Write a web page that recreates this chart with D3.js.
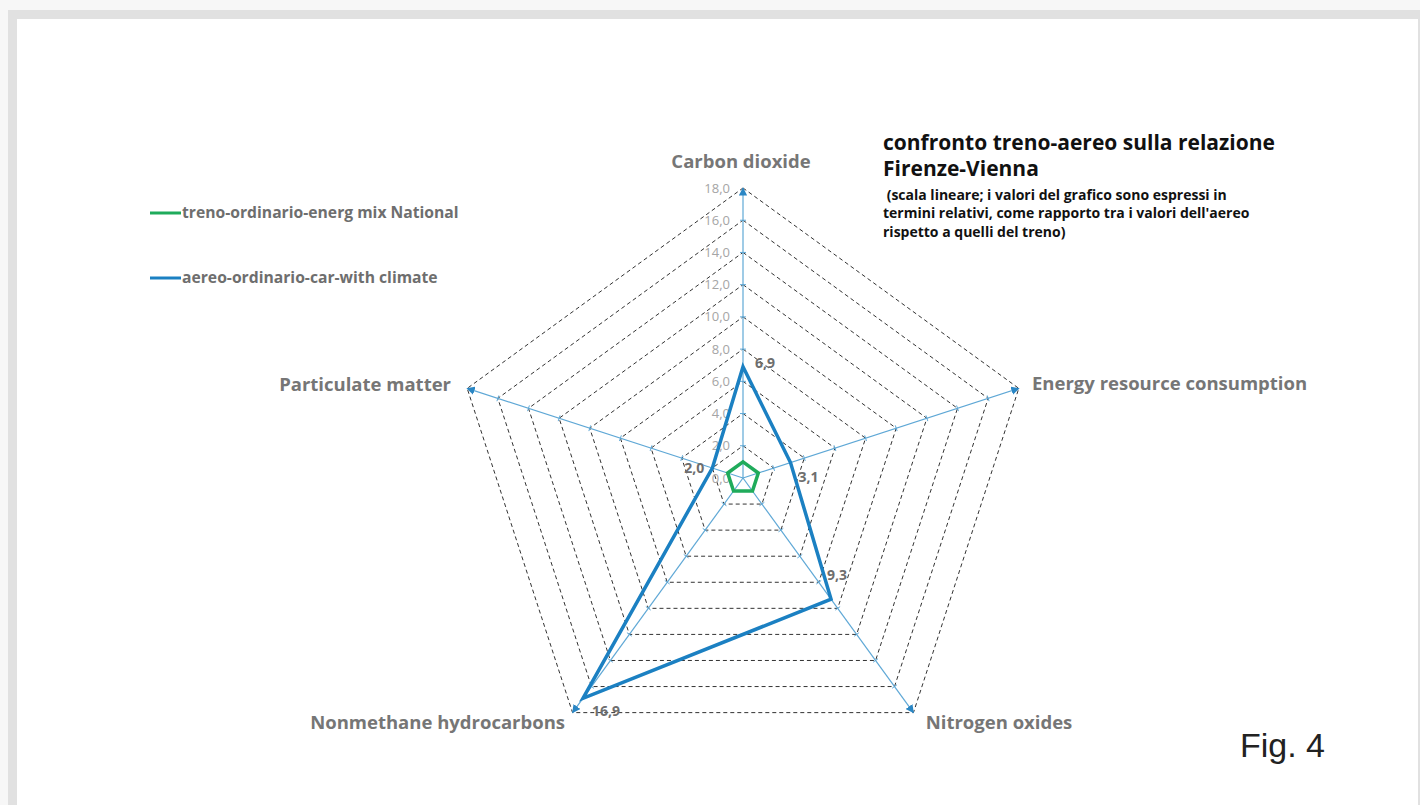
<!DOCTYPE html>
<html><head><meta charset="utf-8">
<script src="https://cdn.jsdelivr.net/npm/d3@7"></script>
<style>
html,body{margin:0;padding:0;background:#f7f7f7;}
svg{display:block;}
</style></head>
<body>
<svg id="chart" width="1420" height="805"></svg>
<script>
// ---- data ----
const categories = ["Carbon dioxide", "Energy resource consumption", "Nitrogen oxides", "Nonmethane hydrocarbons", "Particulate matter"];
const seriesNames = ["treno-ordinario-energ mix National", "aereo-ordinario-car-with climate"];
const trenoValues = [1, 1, 1, 1, 1];
const aereoValues = [6.9, 3.1, 9.3, 16.9, 2.0];
const tickValues = [0, 2, 4, 6, 8, 10, 12, 14, 16, 18];
const dataLabels = ["6,9", "3,1", "9,3", "16,9", "2,0"];
const titleLines = ["confronto treno-aereo sulla relazione", "Firenze-Vienna"];
const subtitleLines = [" (scala lineare; i valori del grafico sono espressi in", "termini relativi, come rapporto tra i valori dell'aereo", "rispetto a quelli del treno)"];

// ---- layout / style ----
const svg = d3.select("#chart");
const cx = 743, cy = 478, R = 290;
const rScale = d3.scaleLinear().domain([0, 18]).range([0, R]);
const angle = i => -Math.PI / 2 + i * 2 * Math.PI / categories.length;
const pt = (i, v) => [cx + rScale(v) * Math.cos(angle(i)), cy + rScale(v) * Math.sin(angle(i))];
const greyFont = "'Open Sans', 'Noto Sans', sans-serif";

// frame
svg.append("rect").attr("x", 8).attr("y", 10).attr("width", 1412).attr("height", 795).attr("fill", "#e1e1e1");
svg.append("rect").attr("x", 17).attr("y", 19).attr("width", 1401).attr("height", 786).attr("fill", "#ffffff");

// arrow marker
const defs = svg.append("defs");
defs.append("marker").attr("id", "arr").attr("viewBox", "0 0 10 10").attr("refX", 9).attr("refY", 5)
  .attr("markerWidth", 7).attr("markerHeight", 7).attr("orient", "auto")
  .append("path").attr("d", "M0,0 L10,5 L0,10 Z").attr("fill", "#2a86c4");

// grid rings
const line = d3.line();
const g = svg.append("g");
tickValues.filter(v => v > 0).forEach(v => {
  const pts = categories.map((c, i) => pt(i, v));
  g.append("path").attr("d", line(pts) + "Z").attr("fill", "none")
    .attr("stroke", "#333").attr("stroke-width", 1).attr("stroke-dasharray", "4,3");
});

// axes
categories.forEach((c, i) => {
  const [x2, y2] = pt(i, 18);
  g.append("line").attr("x1", cx).attr("y1", cy).attr("x2", x2).attr("y2", y2)
    .attr("stroke", "#5fa8d6").attr("stroke-width", 1.2).attr("marker-end", "url(#arr)");
  tickValues.filter(v => v > 0 && v < 18).forEach(v => {
    const [tx, ty] = pt(i, v);
    const a = angle(i) + Math.PI / 2;
    g.append("line").attr("x1", tx - 3 * Math.cos(a)).attr("y1", ty - 3 * Math.sin(a))
      .attr("x2", tx + 3 * Math.cos(a)).attr("y2", ty + 3 * Math.sin(a))
      .attr("stroke", "#5fa8d6").attr("stroke-width", 1);
  });
});

// tick labels on first axis
const fmt = v => d3.format(".1f")(v).replace(".", ",");
tickValues.forEach(v => {
  const [x, y] = pt(0, v);
  g.append("text").attr("x", x - 13).attr("y", y).attr("dy", "0.35em").attr("text-anchor", "end")
    .attr("font-family", greyFont).attr("font-size", 13).attr("fill", "#a5a5a5").text(fmt(v));
});

// series
const series = [
  {name: seriesNames[0], values: trenoValues, color: "#1fab5b"},
  {name: seriesNames[1], values: aereoValues, color: "#1b80c2"}
];
series.forEach(s => {
  const pts = s.values.map((v, i) => pt(i, v));
  g.append("path").attr("d", line(pts) + "Z").attr("fill", "none")
    .attr("stroke", s.color).attr("stroke-width", 3.5).attr("stroke-linejoin", "miter");
});

// data labels
const labelOffsets = [[12, -4, "start"], [8, 15, "start"], [-4, -24, "start"], [9, 13, "start"], [-8, 0, "end"]];
aereoValues.forEach((v, i) => {
  const [x, y] = pt(i, v);
  const o = labelOffsets[i];
  g.append("text").attr("x", x + o[0]).attr("y", y + o[1]).attr("dy", "0.35em").attr("text-anchor", o[2])
    .attr("font-family", greyFont).attr("font-weight", 700).attr("font-size", 14).attr("fill", "#6e6e6e").text(dataLabels[i]);
});

// category labels
const catPos = [[741, 162, "middle"], [1032, 384, "start"], [999, 723, "middle"], [565, 723, "end"], [451, 385, "end"]];
categories.forEach((c, i) => {
  const p = catPos[i];
  svg.append("text").attr("x", p[0]).attr("y", p[1]).attr("dy", "0.35em").attr("text-anchor", p[2])
    .attr("font-family", greyFont).attr("font-weight", 700).attr("font-size", 18.5).attr("fill", "#767676").text(c);
});

// legend
series.forEach((s, i) => {
  const y = 213 + i * 65;
  svg.append("line").attr("x1", 150).attr("x2", 181).attr("y1", y).attr("y2", y)
    .attr("stroke", s.color).attr("stroke-width", 3);
  svg.append("text").attr("x", 182).attr("y", y).attr("dy", "0.35em")
    .attr("font-family", greyFont).attr("font-weight", 700).attr("font-size", 15.7).attr("fill", "#6e6e6e").text(s.name);
});

// title
titleLines.forEach((t, i) => {
  svg.append("text").attr("x", 883).attr("y", 143 + i * 26).attr("dy", "0.35em")
    .attr("font-family", greyFont).attr("font-weight", 700).attr("font-size", 21).attr("fill", "#111").text(t);
});
subtitleLines.forEach((t, i) => {
  svg.append("text").attr("x", 883).attr("y", 195 + i * 18.5).attr("dy", "0.35em")
    .attr("font-family", greyFont).attr("font-weight", 700).attr("font-size", 14).attr("fill", "#111")
    .attr("xml:space", "preserve").style("white-space", "pre").text(t);
});

// Fig. 4
svg.append("text").attr("x", 1240).attr("y", 757).attr("font-family", "'Liberation Sans', Arial, sans-serif")
  .attr("font-size", 34).attr("fill", "#222").text("Fig. 4");
</script>
</body></html>
